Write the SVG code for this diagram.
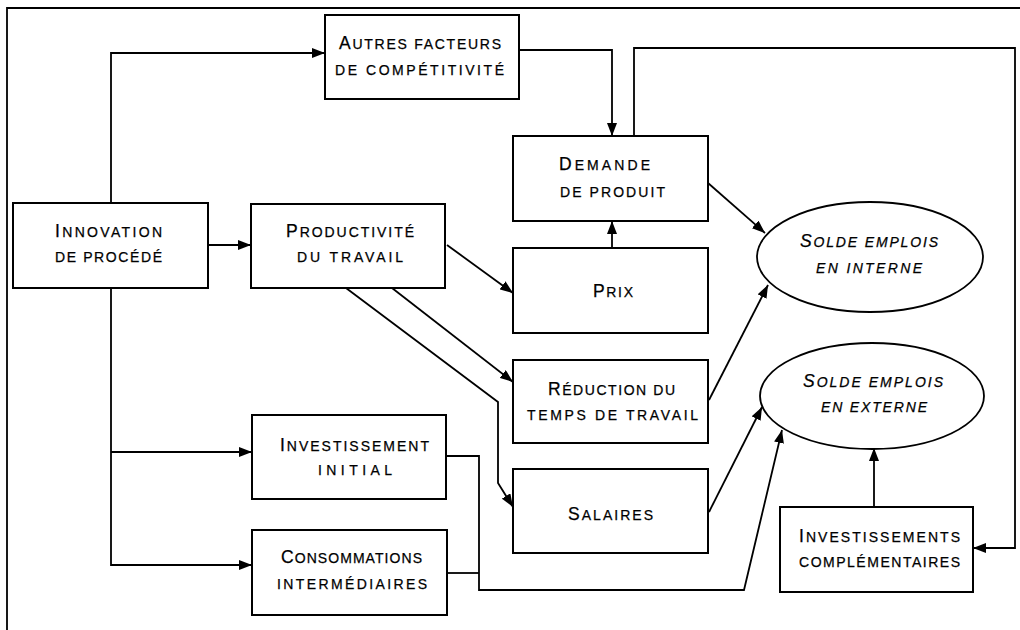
<svg xmlns="http://www.w3.org/2000/svg" width="1020" height="630" viewBox="0 0 1020 630">
<defs>
<marker id="ah" viewBox="0 0 13 10" refX="13" refY="5" markerWidth="13" markerHeight="10" orient="auto" markerUnits="userSpaceOnUse"><path d="M0,0 L13,5 L0,10 z" fill="#000"/></marker>
<style>
.box{fill:#fff;stroke:#000;stroke-width:2}
.ell{fill:#fff;stroke:#000;stroke-width:1.8}
.c{fill:none;stroke:#000;stroke-width:1.8}
.a{marker-end:url(#ah)}
text{font-family:"Liberation Sans","DejaVu Sans",sans-serif;font-size:14px;fill:#000;stroke:#000;stroke-width:0.25}
.big{font-size:17.5px}
.it{font-style:italic}
</style>
</defs>
<rect width="1020" height="630" fill="#fff"/>
<path class="c" d="M7,630 V8 H1020" stroke-width="2"/>
<g id="connectors">
<path class="c a" d="M111,203 V53 H325"/>
<path class="c a" d="M519,50 H612 V136"/>
<path class="c a" d="M634,136 V48 H1015 V548 H973"/>
<path class="c a" d="M874,507 V448"/>
<path class="c a" d="M208,245 H251"/>
<path class="c a" d="M447,245 L513,293"/>
<path class="c a" d="M392,288 L513,382"/>
<path class="c a" d="M346,288 L498,402 V483 L513,507"/>
<path class="c a" d="M612,248 V221"/>
<path class="c a" d="M708,183 L765,233"/>
<path class="c a" d="M709,400 L768,285"/>
<path class="c a" d="M709,512 L762,407"/>
<path class="c a" d="M111,288 V565 H252"/>
<path class="c a" d="M111,452 H252"/>
<path class="c a" d="M446,456 H479 V590 H744 L782,430"/>
<path class="c" d="M447,573 H479"/>
</g>
<g id="innovation">
<rect class="box" x="13" y="203" width="195" height="85"/>
<text x="55" y="237" textLength="107" lengthAdjust="spacing"><tspan class="big">I</tspan>NNOVATION</text>
<text x="55" y="262" textLength="107" lengthAdjust="spacing">DE PROCÉDÉ</text>
</g>
<g id="autres">
<rect class="box" x="325" y="15" width="194" height="84"/>
<text x="339" y="49" textLength="162" lengthAdjust="spacing"><tspan class="big">A</tspan>UTRES FACTEURS</text>
<text x="335" y="75" textLength="169" lengthAdjust="spacing">DE COMPÉTITIVITÉ</text>
</g>
<g id="productivite">
<rect class="box" x="251" y="204" width="194" height="84"/>
<text x="286" y="237" textLength="128" lengthAdjust="spacing"><tspan class="big">P</tspan>RODUCTIVITÉ</text>
<text x="297" y="262" textLength="106" lengthAdjust="spacing">DU TRAVAIL</text>
</g>
<g id="demande">
<rect class="box" x="513" y="136" width="195" height="85"/>
<text x="559" y="170" textLength="91" lengthAdjust="spacing"><tspan class="big">D</tspan>EMANDE</text>
<text x="560" y="197" textLength="105" lengthAdjust="spacing">DE PRODUIT</text>
</g>
<g id="prix">
<rect class="box" x="513" y="248" width="195" height="85"/>
<text x="593" y="297" textLength="40" lengthAdjust="spacing"><tspan class="big">P</tspan>RIX</text>
</g>
<g id="reduction">
<rect class="box" x="513" y="360" width="195" height="83"/>
<text x="548" y="395" textLength="127" lengthAdjust="spacing"><tspan class="big">R</tspan>ÉDUCTION DU</text>
<text x="527" y="420" textLength="171" lengthAdjust="spacing">TEMPS DE TRAVAIL</text>
</g>
<g id="salaires">
<rect class="box" x="513" y="469" width="195" height="84"/>
<text x="568" y="520" textLength="85" lengthAdjust="spacing"><tspan class="big">S</tspan>ALAIRES</text>
</g>
<g id="investissement-initial">
<rect class="box" x="252" y="415" width="194" height="84"/>
<text x="280" y="451" textLength="149" lengthAdjust="spacing"><tspan class="big">I</tspan>NVESTISSEMENT</text>
<text x="318" y="475" textLength="74" lengthAdjust="spacing">INITIAL</text>
</g>
<g id="consommations">
<rect class="box" x="252" y="530" width="195" height="85"/>
<text x="281" y="563" textLength="141" lengthAdjust="spacing"><tspan class="big">C</tspan>ONSOMMATIONS</text>
<text x="277" y="589" textLength="150" lengthAdjust="spacing">INTERMÉDIAIRES</text>
</g>
<g id="investissements-complementaires">
<rect class="box" x="780" y="507" width="193" height="85"/>
<text x="799" y="542" textLength="161" lengthAdjust="spacing"><tspan class="big">I</tspan>NVESTISSEMENTS</text>
<text x="799" y="567" textLength="161" lengthAdjust="spacing">COMPLÉMENTAIRES</text>
</g>
<g id="solde-interne">
<ellipse class="ell" cx="870" cy="257" rx="113" ry="55"/>
<text class="it" x="800" y="247" textLength="138" lengthAdjust="spacing"><tspan class="big">S</tspan>OLDE EMPLOIS</text>
<text class="it" x="816" y="273" textLength="106" lengthAdjust="spacing">EN INTERNE</text>
</g>
<g id="solde-externe">
<ellipse class="ell" cx="872" cy="396" rx="112" ry="53"/>
<text class="it" x="803" y="387" textLength="140" lengthAdjust="spacing"><tspan class="big">S</tspan>OLDE EMPLOIS</text>
<text class="it" x="821" y="412" textLength="106" lengthAdjust="spacing">EN EXTERNE</text>
</g>
</svg>
